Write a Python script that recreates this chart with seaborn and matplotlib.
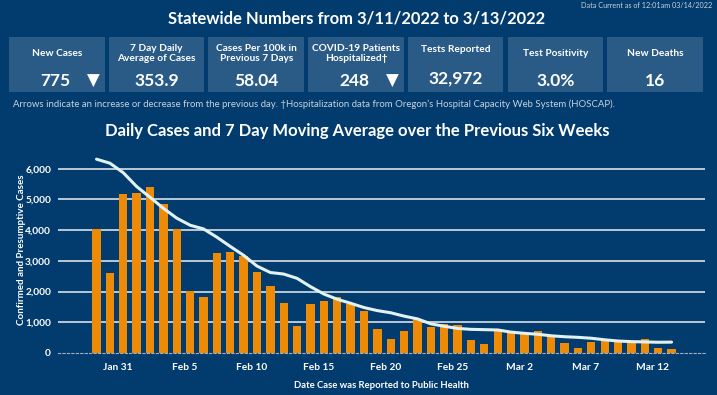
import numpy as np
import pandas as pd
import matplotlib
matplotlib.use("Agg")
import matplotlib.pyplot as plt
import matplotlib.dates as mdates
import matplotlib.ticker as mticker
import seaborn as sns

# ---------------- data ----------------
start_date = "2022-01-29"
end_date = "2022-03-13"
daily_cases = [4030, 2610, 5180, 5220, 5410, 4850, 4040, 2020, 1820, 3260, 3290, 3160,
               2640, 2180, 1640, 890, 1600, 1690, 1830, 1590, 1380, 780, 460, 730,
               1110, 850, 960, 910, 420, 300, 780, 690, 650, 730, 560, 340, 160,
               370, 460, 390, 370, 465, 170, 140]
moving_avg = [6310, 6180, 5870, 5420, 5070, 4710, 4390, 4160, 4040, 3770, 3470, 3180,
              2830, 2620, 2570, 2430, 2160, 1920, 1750, 1620, 1480, 1380, 1310, 1200,
              1110, 950, 870, 800, 770, 760, 750, 680, 640, 610, 560, 530, 510,
              480, 430, 390, 370, 360, 350, 354]
tick_start = "2022-01-31"
tick_count = 9
y_ticks = [0, 1000, 2000, 3000, 4000, 5000, 6000]

card_labels = ["New Cases", "7 Day Daily\nAverage of Cases", "Cases Per 100k in\nPrevious 7 Days",
               "COVID-19 Patients\nHospitalized\u2020", "Tests Reported", "Test Positivity", "New Deaths"]
card_values = ["775", "353.9", "58.04", "248", "32,972", "3.0%", "16"]
card_arrows = ["\u25BC", "", "", "\u25BC", "", "", ""]

title = "Statewide Numbers from 3/11/2022 to 3/13/2022"
data_current = "Data Current as of 12:01am 03/14/2022"
footnote = ("Arrows indicate an increase or decrease from the previous day. \u2020Hospitalization data "
            "from Oregon\u2019s Hospital Capacity Web System (HOSCAP).")
chart_title = "Daily Cases and 7 Day Moving Average over the Previous Six Weeks"
y_label = "Confirmed and Presumptive Cases"
x_label = "Date Case was Reported to Public Health"

# ---------------- style ----------------
BG = "#023b6d"
CARD = "#2a5b87"
BAR = "#ee8b06"
LINE = "#e2f1f1"
GRID = "#c9d3dc"
FONT = ["Lato", "DejaVu Sans"]

sns.set_theme(style="white")
plt.rcParams["font.family"] = FONT

W, H = 717, 395
fig = plt.figure(figsize=(W / 100, H / 100), dpi=100, facecolor=BG)

def px(x, y):
    return x / W, 1 - y / H

# header texts
fig.text(*px(712, 5), data_current, ha="right", va="center", color="#c8d2dc", fontsize=5.2)
fig.text(*px(357, 19), title, ha="center", va="center", color="white", fontsize=11.9, weight="bold")

# cards
card_x0, card_w, card_gap = 9, 95.7, 4
card_top, card_bot = 37, 92
for i, (lab, val, arr) in enumerate(zip(card_labels, card_values, card_arrows)):
    x0 = card_x0 + i * (card_w + card_gap)
    rx, ry = px(x0, card_bot)
    fig.patches.append(plt.Rectangle((rx, ry), card_w / W, (card_bot - card_top) / H,
                                     transform=fig.transFigure, facecolor=CARD, edgecolor="none", zorder=0))
    cx = x0 + card_w / 2
    ly = 50 if i in (4,) else 54
    if "\n" in lab:
        ly = 53.5
    fig.text(*px(cx, ly), lab, ha="center", va="center", color="white", fontsize=7.3,
             weight="bold", linespacing=1.25)
    vy = 79 if i == 4 else 81
    if arr:
        fig.text(*px(x0 + 46, vy), val, ha="center", va="center", color="white", fontsize=12.5, weight="bold")
        fig.text(*px(x0 + 84, vy), arr, ha="center", va="center", color="white", fontsize=12,
                 family=["DejaVu Sans"])
    else:
        fig.text(*px(cx, vy), val, ha="center", va="center", color="white", fontsize=12.5, weight="bold")

fig.text(*px(13, 104), footnote, ha="left", va="center", color="#c8d2dc", fontsize=6.9)
fig.text(*px(357, 131), chart_title, ha="center", va="center", color="white", fontsize=12, weight="bold")

# ---------------- chart ----------------
dates = pd.date_range(start_date, end_date, freq="D")
xnum = mdates.date2num(dates) + 0.4
df = pd.DataFrame({"x": xnum, "cases": daily_cases, "avg": moving_avg})

ax_l, ax_r = 58, 705
ax_bot = 353
px_per_unit = (353 - 168.7) / 6000
ymax = 6500
ax_top = ax_bot - ymax * px_per_unit
ax = fig.add_axes([ax_l / W, 1 - ax_bot / H, (ax_r - ax_l) / W, (ax_bot - ax_top) / H])
ax.set_facecolor(BG)

for yv in y_ticks[1:]:
    ax.axhline(yv, color=GRID, lw=1.3, zorder=0)

sns.barplot(data=df, x="x", y="cases", native_scale=True, color=BAR, saturation=1,
            width=0.62, ax=ax, zorder=2, edgecolor="none")
sns.lineplot(data=df, x="x", y="avg", color=LINE, lw=2.2, ax=ax, zorder=3)

t0 = mdates.date2num(pd.Timestamp(tick_start))
ax.set_xlim(t0 - 4.48, t0 + 43.9)
ax.set_ylim(0, ymax)
tick_dates = pd.date_range(tick_start, periods=tick_count, freq="5D")
ax.xaxis.set_major_locator(mticker.FixedLocator(mdates.date2num(tick_dates)))
ax.xaxis.set_major_formatter(mticker.FixedFormatter([d.strftime("%b ") + str(d.day) for d in tick_dates]))
ax.xaxis.set_minor_locator(mticker.MultipleLocator(1))
ax.set_yticks(y_ticks)
ax.yaxis.set_major_formatter(mticker.FuncFormatter(lambda v, p: f"{int(v):,}"))

for s in ["top", "right", "left"]:
    ax.spines[s].set_visible(False)
ax.spines["bottom"].set_color("#9fb0c0")
ax.spines["bottom"].set_linewidth(0.8)
ax.spines["bottom"].set_linestyle((0, (2, 2)))
ax.tick_params(axis="x", which="major", colors="#b7c4d0", length=3, width=0.8, pad=4,
               labelcolor="white", labelsize=7.3)
ax.tick_params(axis="x", which="minor", colors="#9fb0c0", length=1.5, width=0.6)
ax.tick_params(axis="y", colors=GRID, length=4, width=1, pad=1, labelcolor="white", labelsize=7.3)
for lbl in ax.get_xticklabels() + ax.get_yticklabels():
    lbl.set_fontweight("bold")

ax.set_xlabel(x_label, color="white", fontsize=6.8, weight="bold", labelpad=7)
ax.set_ylabel(y_label, color="white", fontsize=7.1, weight="bold", labelpad=6)
ax.yaxis.set_label_coords(-0.050, 0.516)

fig.savefig("out.png", dpi=100, facecolor=BG)
